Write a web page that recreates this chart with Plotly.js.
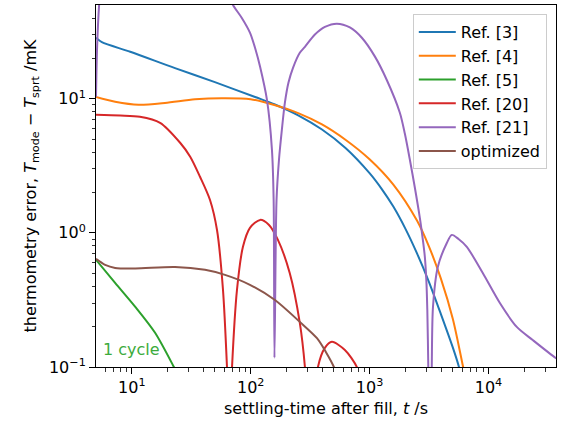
<!DOCTYPE html>
<html>
<head>
<meta charset="utf-8">
<script src="https://cdn.plot.ly/plotly-3.0.1.min.js"></script>
<style>html,body{margin:0;padding:0;background:#fff;}#chart{width:563px;height:424px;}</style>
</head>
<body>
<div id="chart"></div>
<script>
// ---- data (t in s, error in mK) ----
const t_ref3 = [5.0, 5.6, 9.7, 23.1, 50, 109, 158, 251, 398, 631, 1000, 1259, 1585, 1995, 2512, 3162, 3981, 5012, 5650, 5900];
const y_ref3 = [28.5, 26.4, 22.4, 16.9, 13.3, 10.3, 9.1, 7.53, 5.90, 4.28, 2.79, 2.14, 1.57, 1.08, 0.70, 0.43, 0.248, 0.140, 0.1, 0.085];

const t_ref4 = [5.0, 7.24, 11.4, 19, 34, 57, 100, 158, 251, 398, 631, 1000, 1585, 2512, 3162, 3981, 5012, 6120, 6350];
const y_ref4 = [10.3, 9.5, 9.02, 9.3, 9.9, 10.1, 9.93, 8.98, 7.82, 6.44, 4.93, 3.54, 2.29, 1.23, 0.79, 0.456, 0.229, 0.1, 0.085];

const t_ref5 = [5.0, 7.24, 10.7, 15.7, 22.6, 24];
const y_ref5 = [0.63, 0.424, 0.281, 0.180, 0.1, 0.09];

const t_ref20 = [5.0, 8, 11.7, 17.3, 25.5, 31, 37.5, 45.5, 52.1, 58.5, 63.2, 65, null,
                 67.8, 69.7, 76.7, 86.1, 98.6, 120, 142, 169.5, 213, 259, 286, 300, null,
                 345, 368, 421, 482, 620, 781, 820];
const y_ref20 = [7.6, 7.5, 7.34, 6.62, 4.70, 3.7, 2.62, 1.76, 1.05, 0.376, 0.1, 0.05, null,
                 0.05, 0.1, 0.376, 0.787, 1.09, 1.25, 1.15, 0.887, 0.502, 0.213, 0.1, 0.05, null,
                 0.05, 0.1, 0.139, 0.154, 0.134, 0.1, 0.08];

const t_ref21 = [5.0, 5.1, 5.31, 5.45, null,
                 65, 71, 84, 98.6, 110, 120, 137, 151, 156, 158.5, 165, 173, 183, 194, 208, 227, 259, 286, 347, 421, 531, 683, 861, 1107, 1396, 1798, 1982, 2183, 2405, 2650, 2807, 2917, 3002, 3061, 3120, 3160, null,
                 3290, 3335, 3416, 3750, 4465, 4920, 5600, 6574, 8960, 12440, 17300, 23560, 36740, 40000];
const y_ref21 = [10.3, 23.2, 50, 65, null,
                 60, 50, 40.2, 31.1, 23.2, 17.3, 9.84, 4.16, 1.76, 0.117, 1.76, 3.51, 5.88, 9.34, 13.2, 17.0, 22.0, 24.4, 30.1, 34.3, 36.3, 34.0, 28.5, 20.7, 13.8, 7.87, 5.48, 3.51, 2.17, 1.29, 0.887, 0.662, 0.446, 0.266, 0.1, 0.05, null,
                 0.05, 0.1, 0.281, 0.557, 0.841, 0.966, 0.90, 0.787, 0.502, 0.301, 0.199, 0.159, 0.117, 0.112];

const t_opt = [5.0, 5.97, 7.24, 10.7, 23.1, 41.3, 60.8, 98.6, 160, 259, 361, 430, 501, 530];
const y_opt = [0.64, 0.577, 0.548, 0.543, 0.557, 0.53, 0.486, 0.41, 0.316, 0.217, 0.164, 0.129, 0.1, 0.085];

const seriesNames = ['Ref. [3]', 'Ref. [4]', 'Ref. [5]', 'Ref. [20]', 'Ref. [21]', 'optimized'];
const seriesColors = ['#1f77b4', '#ff7f0e', '#2ca02c', '#d62728', '#9467bd', '#8c564b'];

const xTickVals = [10, 100, 1000, 10000];
const xTickText = ['10<sup>1</sup>', '10<sup>2</sup>', '10<sup>3</sup>', '10<sup>4</sup>'];
const yTickVals = [0.1, 1, 10];
const yTickText = ['10<sup>\u22121</sup>', '10<sup>0</sup>', '10<sup>1</sup>'];

const xLabel = 'settling-time after fill, <i>t</i> /s';
const yLabel = 'thermometry error, <i>T</i><sub>mode</sub> \u2212 <i>T</i><sub>sprt</sub> /mK';
const noteText = '1 cycle';
const noteT = 5.5, noteY = 0.134;

// ---- build ----
function minorTicks(lo, hi) {
  const out = [];
  for (let d = Math.floor(Math.log10(lo)); d <= Math.ceil(Math.log10(hi)); d++) {
    for (let k = 2; k <= 9; k++) {
      const v = k * Math.pow(10, d);
      if (v > lo && v < hi) out.push(v);
    }
  }
  return out;
}

const xs = [t_ref3, t_ref4, t_ref5, t_ref20, t_ref21, t_opt];
const ys = [y_ref3, y_ref4, y_ref5, y_ref20, y_ref21, y_opt];
const traces = xs.map((x, i) => ({
  type: 'scatter', mode: 'lines', x: x, y: ys[i], name: seriesNames[i],
  line: {color: seriesColors[i], width: 2, shape: 'spline', smoothing: 0.8},
  connectgaps: false
}));

const FONT = 'DejaVu Sans, Verdana, sans-serif';
const xRange = [5, 37000], yRange = [0.1, 50];
const axisCommon = {
  type: 'log', tickmode: 'array', ticks: 'outside', ticklen: 6, tickwidth: 1, tickcolor: '#000',
  showline: true, linecolor: '#000', linewidth: 1, mirror: true, showgrid: false, zeroline: false,
  tickfont: {family: FONT, size: 16, color: '#000'}
};

const layout = {
  width: 563, height: 424,
  margin: {l: 96, r: 7, t: 5, b: 57},
  paper_bgcolor: '#fff', plot_bgcolor: '#fff',
  font: {family: FONT, size: 16, color: '#000'},
  showlegend: true,
  xaxis: Object.assign({}, axisCommon, {
    range: xRange.map(Math.log10), tickvals: xTickVals, ticktext: xTickText,
    minor: {tickvals: minorTicks(xRange[0], xRange[1]), ticks: 'outside', ticklen: 3.5, tickwidth: 0.8, tickcolor: '#000', showgrid: false},
    title: {text: xLabel, font: {family: FONT, size: 16, color: '#000'}, standoff: 6}
  }),
  yaxis: Object.assign({}, axisCommon, {
    range: yRange.map(Math.log10), tickvals: yTickVals, ticktext: yTickText,
    minor: {tickvals: minorTicks(yRange[0], yRange[1]), ticks: 'outside', ticklen: 3.5, tickwidth: 0.8, tickcolor: '#000', showgrid: false},
    title: {text: yLabel, font: {family: FONT, size: 16, color: '#000'}, standoff: 8}
  }),
  legend: {
    x: 0.980, xanchor: 'right', y: 0.975, yanchor: 'top', itemwidth: 37,
    bgcolor: 'rgba(255,255,255,0.8)', bordercolor: '#cccccc', borderwidth: 1,
    font: {family: FONT, size: 16, color: '#000'}
  },
  annotations: [{
    xref: 'x', yref: 'y', x: Math.log10(noteT), y: Math.log10(noteY),
    xanchor: 'left', yanchor: 'middle', text: noteText, showarrow: false,
    font: {family: FONT, size: 16, color: '#3cab3c'}
  }]
};

Plotly.newPlot('chart', traces, layout, {displayModeBar: false, staticPlot: true});
</script>
</body>
</html>
